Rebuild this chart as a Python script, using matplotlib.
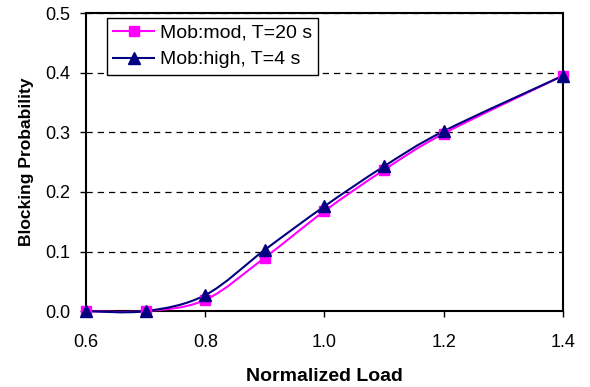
import numpy as np
import matplotlib.pyplot as plt
from matplotlib.path import Path
from matplotlib.patches import PathPatch

plt.rcParams['font.family'] = ['Liberation Sans', 'DejaVu Sans']

# data
load = [0.6, 0.7, 0.8, 0.9, 1.0, 1.1, 1.2, 1.4]
mob_mod = [0.0, 0.0, 0.019, 0.090, 0.168, 0.237, 0.298, 0.395]
mob_high = [0.0, 0.0, 0.027, 0.103, 0.176, 0.243, 0.302, 0.395]


def smooth_path(x, y):
    # Excel-style smoothed line: cubic bezier with catmull-rom control points
    p = np.column_stack([x, y])
    verts = [p[0]]
    codes = [Path.MOVETO]
    n = len(p)
    for i in range(n - 1):
        p0 = p[i - 1] if i > 0 else p[i]
        p3 = p[i + 2] if i + 2 < n else p[i + 1]
        c1 = p[i] + (p[i + 1] - p0) / 6
        c2 = p[i + 1] - (p3 - p[i]) / 6
        verts += [c1, c2, p[i + 1]]
        codes += [Path.CURVE4] * 3
    return Path(verts, codes)


fig = plt.figure(figsize=(5.9, 3.87), dpi=100)
ax = fig.add_axes([0.146, 0.196, 0.808, 0.770])

series = [(mob_mod, '#FF00FF', 's', 'Mob:mod, T=20 s', 7.5),
          (mob_high, '#000080', '^', 'Mob:high, T=4 s', 8.5)]
for vals, col, mk, lab, ms in series:
    ax.add_patch(PathPatch(smooth_path(load, vals), fill=False, edgecolor=col,
                           lw=1.5, zorder=3, clip_on=False))
    ax.plot(load, vals, ls='none', marker=mk, color=col, ms=ms, zorder=4, clip_on=False)
    ax.plot([], [], color=col, lw=1.5, marker=mk, ms=ms, label=lab)

ax.set_xlim(0.6, 1.4)
ax.set_ylim(0, 0.5)
ax.set_xticks(np.arange(0.6, 1.41, 0.2))
ax.set_yticks(np.arange(0, 0.51, 0.1))
ax.xaxis.set_major_formatter(plt.FormatStrFormatter('%.1f'))
ax.yaxis.set_major_formatter(plt.FormatStrFormatter('%.1f'))
ax.tick_params(direction='out', length=4.5, width=1, labelsize=13, colors='black')
ax.tick_params(axis='x', pad=12)
ax.tick_params(axis='y', pad=7)
ax.yaxis.grid(True, ls=(0, (5, 4)), color='black', lw=0.9)
for s in ax.spines.values():
    s.set_linewidth(1.5)

ax.set_xlabel('Normalized Load', fontsize=14, fontweight='bold', labelpad=12)
ax.set_ylabel('Blocking Probability', fontsize=12.5, fontweight='bold', labelpad=8)

leg = ax.legend(loc='upper left', bbox_to_anchor=(0.044, 0.985), fontsize=14,
                fancybox=False, edgecolor='black', framealpha=1,
                handlelength=2.1, borderpad=0.32, labelspacing=0.48, handletextpad=0.3,
                borderaxespad=0)
leg.get_frame().set_linewidth(1)

fig.savefig('out.png', dpi=100)
